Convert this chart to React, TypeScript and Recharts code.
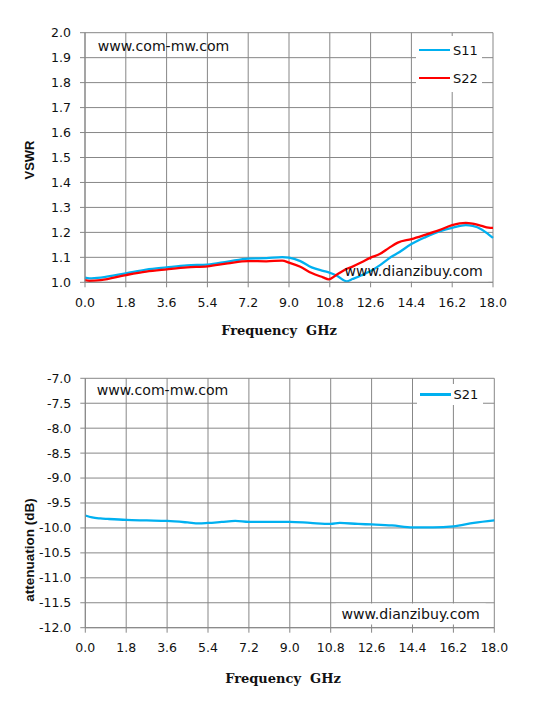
import {
  LineChart,
  Line,
  XAxis,
  YAxis,
  CartesianGrid,
  Legend,
  ReferenceArea,
} from 'recharts'

// frequency points (GHz)
const freqTop = [
  0, 0.2, 0.7, 1.8, 2.7, 3.6, 4.5, 5.4, 6.3, 7.2, 8.0, 8.7, 9.0, 9.5, 10.0, 10.5, 10.75, 11.1,
  11.55, 11.8, 12.2, 12.6, 13.0, 13.4, 13.8, 14.4, 15.0, 15.6, 16.2, 16.8, 17.1, 17.5, 17.8, 18.0,
]
const s11 = [
  1.019, 1.016, 1.019, 1.036, 1.051, 1.06, 1.068, 1.071, 1.083, 1.095, 1.097, 1.101, 1.099, 1.085,
  1.06, 1.046, 1.04, 1.027, 1.004, 1.013, 1.028, 1.045, 1.068, 1.095, 1.117, 1.153, 1.18, 1.203,
  1.218, 1.229, 1.226, 1.212, 1.192, 1.178,
]
const s22 = [
  1.009, 1.006, 1.009, 1.029, 1.043, 1.052, 1.06, 1.064, 1.076, 1.085, 1.084, 1.087, 1.079, 1.062,
  1.037, 1.02, 1.012, 1.03, 1.054, 1.063, 1.08, 1.099, 1.113, 1.137, 1.159, 1.173, 1.19, 1.208,
  1.229, 1.238, 1.235, 1.226, 1.219, 1.218,
]

// lower chart
const freqBottom = [
  0, 0.3, 0.66, 1.0, 1.8, 2.7, 3.6, 4.5, 5.0, 5.4, 6.0, 6.6, 7.2, 8.1, 9.0, 9.9, 10.8, 11.2, 12.0,
  12.6, 13.5, 14.4, 15.3, 16.2, 17.1, 18.0,
]
const s21 = [
  -9.75, -9.79, -9.81, -9.82, -9.84, -9.85, -9.86, -9.89, -9.91, -9.9, -9.88, -9.86, -9.88, -9.88,
  -9.877, -9.9, -9.92, -9.9, -9.92, -9.93, -9.95, -9.99, -9.99, -9.97, -9.9, -9.85,
]

const freqTicks = [0, 1.8, 3.6, 5.4, 7.2, 9.0, 10.8, 12.6, 14.4, 16.2, 18.0]
const vswrTicks = [1.0, 1.1, 1.2, 1.3, 1.4, 1.5, 1.6, 1.7, 1.8, 1.9, 2.0]
const attTicks = [-12.0, -11.5, -11.0, -10.5, -10.0, -9.5, -9.0, -8.5, -8.0, -7.5, -7.0]

const topData = freqTop.map((f, i) => ({ f, s11: s11[i], s22: s22[i] }))
const bottomData = freqBottom.map((f, i) => ({ f, s21: s21[i] }))

const BLUE = '#00b0f0'
const RED = '#ff0000'
const GRID = '#878787'
const SANS = '"DejaVu Sans", sans-serif'
const tickStyle = { fontSize: 12.5, fill: '#111', fontFamily: SANS }
const fmt = (v: number) => v.toFixed(1)

function LegendBox({ payload, rowHeight }: any) {
  return (
    <div>
      {(payload || []).map((p: any) => (
        <div
          key={p.value}
          style={{ display: 'flex', alignItems: 'center', height: rowHeight, paddingLeft: 3 }}
        >
          <div style={{ width: 31, height: 2.5, background: p.color }} />
          <span style={{ marginLeft: 3, fontFamily: SANS, fontSize: 13, color: '#111' }}>
            {p.value}
          </span>
        </div>
      ))}
    </div>
  )
}

const overlay = (left: number, top: number, rotate = false): React.CSSProperties => ({
  position: 'absolute',
  left,
  top,
  transform: rotate ? 'translate(-50%, -50%) rotate(-90deg)' : 'translate(-50%, -50%)',
  whiteSpace: 'pre',
})

const axisTitle = {
  fontFamily: '"Liberation Sans", sans-serif',
  fontWeight: 700,
  fontSize: 13,
  color: '#111',
}
const freqTitle = {
  fontFamily: '"DejaVu Serif", serif',
  fontWeight: 700,
  fontSize: 13,
  color: '#111',
}
const mark = { fontFamily: SANS, fontSize: 14.1, color: '#111' }
const markLabel = {
  value: 'www.dianzibuy.com',
  position: 'center' as const,
  fill: '#111',
  fontSize: 14.1,
  fontFamily: SANS,
}

export default function App() {
  return (
    <div
      style={{
        position: 'absolute',
        left: 0,
        top: 0,
        width: 541,
        height: 701,
        background: '#fff',
        overflow: 'hidden',
      }}
    >
      <div style={{ position: 'absolute', left: 0, top: 0 }}>
        <LineChart
          width={541}
          height={320}
          data={topData}
          margin={{ top: 32.7, right: 48, bottom: 7.7, left: 25 }}
        >
          <CartesianGrid stroke={GRID} strokeWidth={1} />
          <XAxis
            dataKey="f"
            type="number"
            domain={[0, 18]}
            ticks={freqTicks}
            tickFormatter={fmt}
            height={30}
            tickSize={5}
            tickMargin={11}
            tick={tickStyle}
            stroke={GRID}
          />
          <YAxis
            type="number"
            domain={[1, 2]}
            ticks={vswrTicks}
            tickFormatter={fmt}
            width={60}
            tickSize={5}
            tickMargin={9}
            tick={tickStyle}
            stroke={GRID}
          />
          <ReferenceArea
            x1={11.2}
            x2={17.8}
            y1={1.003}
            y2={1.089}
            fill="#fff"
            fillOpacity={1}
            stroke="none"
            label={markLabel}
          />
          <Legend
            layout="horizontal"
            verticalAlign="middle"
            align="center"
            wrapperStyle={{ left: 416, top: 36, width: 66, height: 56, background: '#fff' }}
            content={(props: any) => <LegendBox {...props} rowHeight={28} />}
          />
          <Line
            type="monotone"
            dataKey="s11"
            name="S11"
            stroke={BLUE}
            strokeWidth={2.3}
            dot={false}
            isAnimationActive={false}
          />
          <Line
            type="monotone"
            dataKey="s22"
            name="S22"
            stroke={RED}
            strokeWidth={2.3}
            dot={false}
            isAnimationActive={false}
          />
        </LineChart>
      </div>

      <div style={{ position: 'absolute', left: 0, top: 350 }}>
        <LineChart
          width={541}
          height={350}
          data={bottomData}
          margin={{ top: 28.3, right: 46.7, bottom: 42.3, left: 25.3 }}
        >
          <CartesianGrid stroke={GRID} strokeWidth={1} />
          <XAxis
            dataKey="f"
            type="number"
            domain={[0, 18]}
            ticks={freqTicks}
            tickFormatter={fmt}
            height={30}
            tickSize={5}
            tickMargin={10}
            tick={tickStyle}
            stroke={GRID}
          />
          <YAxis
            type="number"
            domain={[-12, -7]}
            ticks={attTicks}
            tickFormatter={fmt}
            width={60}
            tickSize={5}
            tickMargin={9}
            tick={tickStyle}
            stroke={GRID}
          />
          <ReferenceArea
            x1={11.02}
            x2={17.62}
            y1={-11.934}
            y2={-11.514}
            fill="#fff"
            fillOpacity={1}
            stroke="none"
            label={markLabel}
          />
          <Legend
            layout="horizontal"
            verticalAlign="middle"
            align="center"
            wrapperStyle={{ left: 416.5, top: 34, width: 66, height: 21, background: '#fff' }}
            content={(props: any) => <LegendBox {...props} rowHeight={21} />}
          />
          <Line
            type="monotone"
            dataKey="s21"
            name="S21"
            stroke={BLUE}
            strokeWidth={2.3}
            dot={false}
            isAnimationActive={false}
          />
        </LineChart>
      </div>

      <div style={{ ...overlay(29, 160, true), ...axisTitle }}>VSWR</div>
      <div style={{ ...overlay(29, 549.5, true), ...axisTitle, fontSize: 13.5 }}>
        attenuation (dB)
      </div>
      <div style={{ ...overlay(279, 330), ...freqTitle }}>Frequency  GHz</div>
      <div style={{ ...overlay(283, 678), ...freqTitle }}>Frequency  GHz</div>
      <div style={{ ...overlay(163.5, 45.7), ...mark }}>www.com-mw.com</div>
      <div style={{ ...overlay(162.5, 390), ...mark }}>www.com-mw.com</div>
    </div>
  )
}
